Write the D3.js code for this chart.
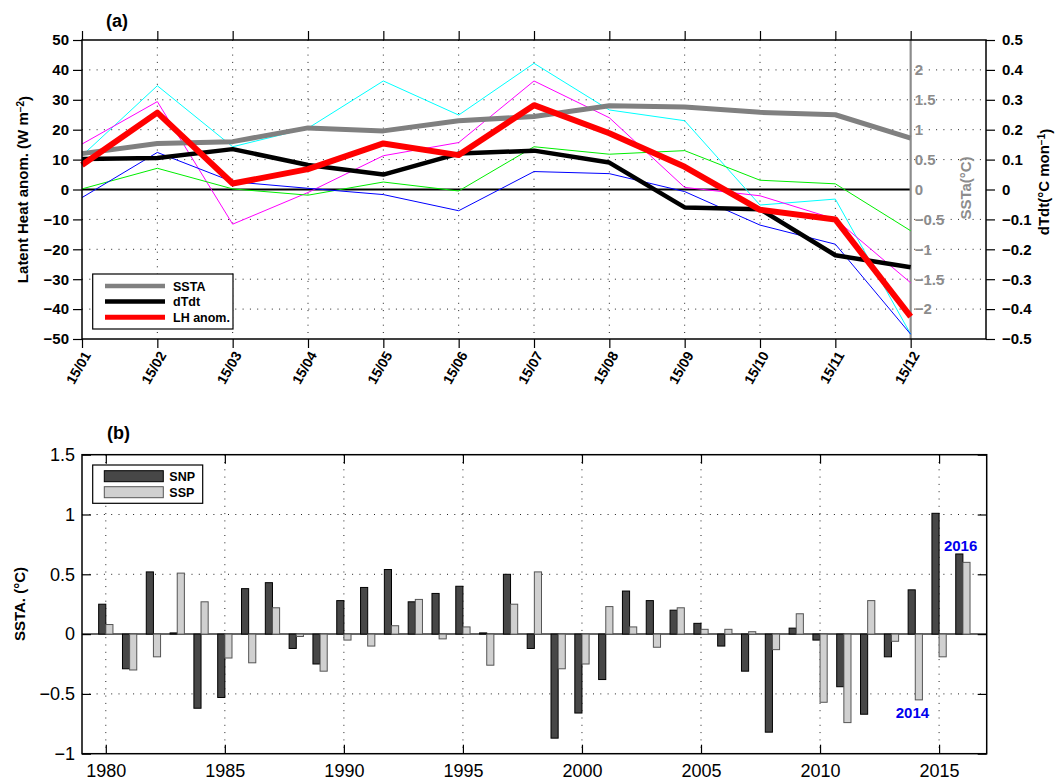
<!DOCTYPE html>
<html>
<head>
<meta charset="utf-8">
<script src="https://cdn.jsdelivr.net/npm/d3@7"></script>
<style>
  body { margin: 0; background: #fff; }
  svg text { font-family: "Liberation Sans", Arial, Helvetica, sans-serif; }
</style>
</head>
<body>
<svg id="chart" width="1055" height="780"></svg>
<script>
// ---------- panel (a): monthly 2015 series ----------
const months = ["15/01","15/02","15/03","15/04","15/05","15/06","15/07","15/08","15/09","15/10","15/11","15/12"];
const sstaMonthly = [0.60, 0.77, 0.80, 1.03, 0.98, 1.15, 1.22, 1.40, 1.38, 1.29, 1.25, 0.86];        // °C
const dTdtMonthly = [0.102, 0.105, 0.135, 0.082, 0.050, 0.120, 0.130, 0.090, -0.060, -0.066, -0.220, -0.260]; // °C/mon
const lhAnom      = [8.2, 25.7, 2.0, 6.8, 15.4, 11.5, 28.2, 18.8, 7.6, -6.8, -10.0, -42.5];           // W m-2
const lhCyan      = [11.3, 34.7, 14.3, 20.5, 36.3, 24.9, 42.2, 26.6, 23.0, -5.2, -3.2, -48.4];
const lhMagenta   = [15.2, 29.4, -11.6, -1.0, 11.3, 15.7, 36.3, 24.0, 0.7, -2.1, -9.9, -31.2];
const lhGreen     = [0.2, 7.1, 0.2, -1.9, 2.5, -0.5, 14.3, 11.8, 13.0, 3.1, 1.9, -13.8];
const lhBlue      = [-2.7, 12.4, 2.6, 0.4, -1.7, -7.1, 6.0, 5.3, -0.7, -11.9, -18.3, -48.4];

const lhTicks  = [-50, -40, -30, -20, -10, 0, 10, 20, 30, 40, 50];
const sstTicks = [-2, -1.5, -1, -0.5, 0, 0.5, 1, 1.5, 2];
const dtTicks  = [-0.5, -0.4, -0.3, -0.2, -0.1, 0, 0.1, 0.2, 0.3, 0.4, 0.5];

// ---------- panel (b): annual SST anomalies ----------
const years = [1980,1981,1982,1983,1984,1985,1986,1987,1988,1989,1990,1991,1992,1993,1994,1995,1996,1997,1998,1999,
               2000,2001,2002,2003,2004,2005,2006,2007,2008,2009,2010,2011,2012,2013,2014,2015,2016];
const snp = [0.25,-0.29,0.52,0.01,-0.62,-0.53,0.38,0.43,-0.12,-0.25,0.28,0.39,0.54,0.27,0.34,0.40,0.01,0.50,-0.12,-0.87,
             -0.66,-0.38,0.36,0.28,0.20,0.09,-0.10,-0.31,-0.82,0.05,-0.05,-0.44,-0.67,-0.19,0.37,1.01,0.67];
const ssp = [0.08,-0.30,-0.19,0.51,0.27,-0.20,-0.24,0.22,-0.02,-0.31,-0.05,-0.10,0.07,0.29,-0.04,0.06,-0.26,0.25,0.52,-0.29,
             -0.25,0.23,0.06,-0.11,0.22,0.04,0.04,0.02,-0.13,0.17,-0.57,-0.74,0.28,-0.06,-0.55,-0.19,0.60];
const yearTicks = [1980, 1985, 1990, 1995, 2000, 2005, 2010, 2015];
const sstaTicksB = [-1, -0.5, 0, 0.5, 1, 1.5];

const svg = d3.select("#chart");
const fmt = d3.format("~g");
const fmtDT = d => (d === 0 ? "0" : d3.format(".1f")(d));

function styleAxis(sel, size, weight, color) {
  sel.select(".domain").remove();
  sel.selectAll(".tick line").attr("stroke", "#000").attr("stroke-width", 1.2);
  sel.selectAll(".tick text")
    .attr("fill", color || "#000")
    .style("font-size", size + "px")
    .style("font-weight", weight)
    .style("font-family", '"Liberation Sans", Arial, Helvetica, sans-serif');
}

// ================= panel (a) =================
const A = { left: 82, right: 986, top: 40, bottom: 339 };
const xA = d3.scaleLinear().domain([1, 13]).range([A.left, A.right]);
const yLH = d3.scaleLinear().domain([-50, 50]).range([A.bottom, A.top]);
const ySST = d3.scaleLinear().domain([-2.5, 2.5]).range([A.bottom, A.top]);
const yDT = d3.scaleLinear().domain([-0.5, 0.5]).range([A.bottom, A.top]);
const mIdx = d3.range(1, 13);

const gA = svg.append("g");

// dotted grid
const gridA = gA.append("g").attr("stroke", "#222").attr("stroke-width", 1).attr("stroke-dasharray", "1,6.3");
gridA.selectAll("line.h").data(lhTicks.filter(v => v !== 0 && Math.abs(v) !== 50)).join("line")
  .attr("class", "h")
  .attr("x1", A.left).attr("x2", A.right)
  .attr("y1", d => yLH(d)).attr("y2", d => yLH(d));
gridA.selectAll("line.v").data(mIdx.slice(1, 11)).join("line")
  .attr("class", "v")
  .attr("x1", d => xA(d)).attr("x2", d => xA(d))
  .attr("y1", A.top).attr("y2", A.bottom);

// zero line
gA.append("line").attr("x1", A.left).attr("x2", xA(12))
  .attr("y1", yLH(0)).attr("y2", yLH(0)).attr("stroke", "#000").attr("stroke-width", 2);

// SSTa axis (grey, inside the frame)
gA.append("line").attr("x1", xA(12)).attr("x2", xA(12)).attr("y1", A.top).attr("y2", A.bottom)
  .attr("stroke", "#8c8c8c").attr("stroke-width", 2.2);
const axSST = gA.append("g").attr("transform", `translate(${xA(12)},0)`)
  .call(d3.axisRight(ySST).tickValues(sstTicks).tickFormat(fmt).tickSize(0).tickPadding(4));
styleAxis(axSST, 15, "bold", "#8c8c8c");

// lines
const lineLH = d3.line().x((d, i) => xA(i + 1)).y(d => yLH(d));
const lineSST = d3.line().x((d, i) => xA(i + 1)).y(d => ySST(d));
const lineDT = d3.line().x((d, i) => xA(i + 1)).y(d => yDT(d));
const thin = [[lhCyan, "#00ffff"], [lhMagenta, "#ff00ff"], [lhGreen, "#00ee00"], [lhBlue, "#0000ff"]];
thin.forEach(([vals, col]) => {
  gA.append("path").attr("d", lineLH(vals)).attr("fill", "none").attr("stroke", col).attr("stroke-width", 1);
});
gA.append("path").attr("d", lineSST(sstaMonthly)).attr("fill", "none")
  .attr("stroke", "#808080").attr("stroke-width", 5).attr("stroke-linejoin", "round");
gA.append("path").attr("d", lineDT(dTdtMonthly)).attr("fill", "none")
  .attr("stroke", "#000").attr("stroke-width", 4.5).attr("stroke-linejoin", "round");
gA.append("path").attr("d", lineLH(lhAnom)).attr("fill", "none")
  .attr("stroke", "#ff0000").attr("stroke-width", 6).attr("stroke-linejoin", "round");

// axes
const axL = gA.append("g").attr("transform", `translate(${A.left},0)`)
  .call(d3.axisLeft(yLH).tickValues(lhTicks).tickFormat(fmt).tickSize(9).tickPadding(4));
styleAxis(axL, 15, "bold");

const axR = gA.append("g").attr("transform", `translate(${A.right},0)`)
  .call(d3.axisRight(yDT).tickValues(dtTicks).tickFormat(fmtDT).tickSize(9).tickPadding(7));
styleAxis(axR, 15, "bold");

const axT = gA.append("g").attr("transform", `translate(0,${A.top})`)
  .call(d3.axisTop(xA).tickValues(mIdx).tickFormat("").tickSize(9));
styleAxis(axT, 15, "bold");

const axB = gA.append("g").attr("transform", `translate(0,${A.bottom})`)
  .call(d3.axisBottom(xA).tickValues(mIdx).tickFormat(d => months[d - 1]).tickSize(9));
styleAxis(axB, 14, "bold");
axB.selectAll(".tick text")
  .attr("y", 0).attr("dy", 0)
  .attr("text-anchor", "end")
  .attr("transform", "translate(9,16) rotate(-60)");

// frame
gA.append("rect").attr("x", A.left).attr("y", A.top).attr("width", A.right - A.left).attr("height", A.bottom - A.top)
  .attr("fill", "none").attr("stroke", "#000").attr("stroke-width", 1.5);

// titles
gA.append("text").attr("x", 106).attr("y", 27).style("font-size", "18px").style("font-weight", "bold").text("(a)");

const tL = gA.append("text").attr("transform", `translate(28,${(A.top + A.bottom) / 2}) rotate(-90)`)
  .attr("text-anchor", "middle").style("font-size", "15px").style("font-weight", "bold");
tL.append("tspan").text("Latent Heat anom. (W m");
tL.append("tspan").attr("dy", "-0.45em").style("font-size", "10px").text("−2");
tL.append("tspan").attr("dy", "0.45em").text(")");

gA.append("text").attr("transform", `translate(971,188) rotate(-90)`)
  .attr("text-anchor", "middle").attr("fill", "#8c8c8c")
  .style("font-size", "15px").style("font-weight", "bold").text("SSTa(°C)");

const tR = gA.append("text").attr("transform", `translate(1049,182) rotate(-90)`)
  .attr("text-anchor", "middle").style("font-size", "15px").style("font-weight", "bold");
tR.append("tspan").text("dTdt(°C mon");
tR.append("tspan").attr("dy", "-0.45em").style("font-size", "10px").text("−1");
tR.append("tspan").attr("dy", "0.45em").text(")");

// legend
const legA = gA.append("g");
legA.append("rect").attr("x", 92.7).attr("y", 274).attr("width", 140.3).attr("height", 55)
  .attr("fill", "#fff").attr("stroke", "#000").attr("stroke-width", 1.2);
const legItems = [["SSTA", "#808080", 4.5], ["dTdt", "#000", 4.5], ["LH anom.", "#ff0000", 5]];
legItems.forEach(([name, col, w], i) => {
  const y = 286 + i * 15.6;
  legA.append("line").attr("x1", 105).attr("x2", 165).attr("y1", y).attr("y2", y)
    .attr("stroke", col).attr("stroke-width", w);
  legA.append("text").attr("x", 173).attr("y", y + 4.5)
    .style("font-size", "12.5px").style("font-weight", "bold").text(name);
});

// ================= panel (b) =================
const B = { left: 82, right: 986.7, top: 454.7, bottom: 753.7 };
const xB = d3.scaleLinear().domain([1979, 2017]).range([B.left, B.right]);
const yB = d3.scaleLinear().domain([-1, 1.5]).range([B.bottom, B.top]);
const gB = svg.append("g");

const gridB = gB.append("g").attr("stroke", "#222").attr("stroke-width", 1).attr("stroke-dasharray", "1,6.3");
gridB.selectAll("line.h").data([-0.5, 0.5, 1]).join("line")
  .attr("class", "h")
  .attr("x1", B.left).attr("x2", B.right)
  .attr("y1", d => yB(d)).attr("y2", d => yB(d));
gridB.selectAll("line.v").data(yearTicks).join("line")
  .attr("class", "v")
  .attr("x1", d => xB(d)).attr("x2", d => xB(d))
  .attr("y1", B.top).attr("y2", B.bottom);

// baseline
gB.append("line").attr("x1", B.left).attr("x2", B.right).attr("y1", yB(0)).attr("y2", yB(0))
  .attr("stroke", "#333").attr("stroke-width", 1.5);

const barW = 0.3;
const barRect = (sel, vals, off) => sel.selectAll("rect").data(years).join("rect")
  .attr("x", (d) => xB(d + off))
  .attr("width", xB(barW) - xB(0))
  .attr("y", (d, i) => yB(Math.max(0, vals[i])))
  .attr("height", (d, i) => Math.abs(yB(vals[i]) - yB(0)));
gB.append("g").attr("fill", "#474747").attr("stroke", "#000").attr("stroke-width", 1)
  .call(barRect, snp, -barW);
gB.append("g").attr("fill", "#d0d0d0").attr("stroke", "#555").attr("stroke-width", 1)
  .call(barRect, ssp, 0);

// axes (ticks pointing inward)
const bL = gB.append("g").attr("transform", `translate(${B.left},0)`)
  .call(d3.axisLeft(yB).tickValues(sstaTicksB).tickFormat(fmt).tickSize(-9).tickPadding(7));
styleAxis(bL, 18, "normal");
const bR = gB.append("g").attr("transform", `translate(${B.right},0)`)
  .call(d3.axisRight(yB).tickValues(sstaTicksB).tickFormat("").tickSize(-9));
styleAxis(bR, 18, "normal");
const bT = gB.append("g").attr("transform", `translate(0,${B.top})`)
  .call(d3.axisTop(xB).tickValues(yearTicks).tickFormat("").tickSize(-9));
styleAxis(bT, 18, "normal");
const bB = gB.append("g").attr("transform", `translate(0,${B.bottom})`)
  .call(d3.axisBottom(xB).tickValues(yearTicks).tickFormat(d3.format("d")).tickSize(-9));
styleAxis(bB, 18, "normal");
bB.selectAll(".tick text").attr("y", 23).attr("dy", 0);

gB.append("rect").attr("x", B.left).attr("y", B.top).attr("width", B.right - B.left).attr("height", B.bottom - B.top)
  .attr("fill", "none").attr("stroke", "#000").attr("stroke-width", 1.5);

gB.append("text").attr("x", 107).attr("y", 439).style("font-size", "18px").style("font-weight", "bold").text("(b)");
gB.append("text").attr("transform", `translate(25,604) rotate(-90)`)
  .attr("text-anchor", "middle").style("font-size", "15px").style("font-weight", "bold").text("SSTA. (°C)");

// legend
const legB = gB.append("g");
legB.append("rect").attr("x", 92.7).attr("y", 465).attr("width", 110).attr("height", 38.3)
  .attr("fill", "#fff").attr("stroke", "#000").attr("stroke-width", 1.2);
[["SNP", "#474747", "#000"], ["SSP", "#d0d0d0", "#555"]].forEach(([name, fill, st], i) => {
  const y = 470.7 + i * 16;
  legB.append("rect").attr("x", 104.3).attr("y", y).attr("width", 59).attr("height", 11)
    .attr("fill", fill).attr("stroke", st).attr("stroke-width", 1);
  legB.append("text").attr("x", 169.3).attr("y", y + 10)
    .style("font-size", "12.5px").style("font-weight", "bold").text(name);
});

// year callouts
gB.append("text").attr("x", xB(2016) - 19).attr("y", 551).attr("fill", "#0000ee")
  .style("font-size", "15px").style("font-weight", "bold").text("2016");
gB.append("text").attr("x", xB(2014) - 19.5).attr("y", 717.5).attr("fill", "#0000ee")
  .style("font-size", "15px").style("font-weight", "bold").text("2014");
</script>
</body>
</html>
